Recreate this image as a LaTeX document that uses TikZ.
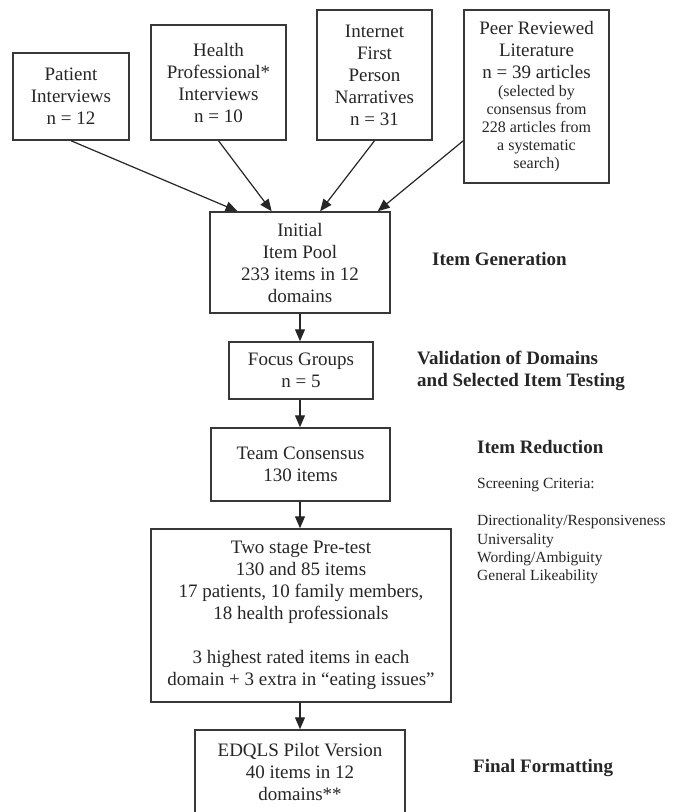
\documentclass[tikz,border=0pt]{standalone}
\usepackage{fontspec}
\setmainfont{Liberation Serif}
\usetikzlibrary{arrows.meta,calc}
\begin{document}
\begin{tikzpicture}[x=1pt,y=-1pt,
  box/.style={draw=black!78, line width=1.5pt, fill=white, align=center, inner sep=0pt,
    font=\fontsize{19}{22}\selectfont, text=black!85},
  lbl/.style={font=\bfseries\fontsize{19}{22}\selectfont, anchor=west, align=left, inner sep=0pt, text=black!85},
  crit/.style={font=\fontsize{15.5}{18.3}\selectfont, anchor=west, align=left, inner sep=0pt, text=black!85},
  arr/.style={-{Triangle[length=12pt,width=10pt]}, line width=1.2pt, black!85}]
\clip (0,0) rectangle (680,812);
\fill[white] (0,0) rectangle (680,812);

\node[box, minimum width=116, minimum height=87] (pat) at (71,96.5) {Patient\\Interviews\\n = 12};
\node[box, minimum width=135, minimum height=115] (hp) at (218.5,82.5) {Health\\Professional*\\Interviews\\n = 10};
\node[box, minimum width=115, minimum height=130] (inet) at (374.5,75) {Internet\\First\\Person\\Narratives\\n = 31};
\node[box, minimum width=145, minimum height=173] (peer) at (536.5,96.5) {\begin{minipage}{140pt}\centering Peer Reviewed\\Literature\\n = 39 articles\par\fontsize{16}{18}\selectfont (selected by\\consensus from\\228 articles from\\a systematic\\search)\par\end{minipage}};

\node[box, minimum width=180, minimum height=101] (init) at (300,262.5) {Initial\\Item Pool\\233 items in 12\\domains};
\node[box, minimum width=144, minimum height=57] (focus) at (301,370.5) {Focus Groups\\n = 5};
\node[box, minimum width=179, minimum height=73] (team) at (300.5,464.5) {Team Consensus\\130 items};
\node[box, minimum width=300, minimum height=173] (two) at (301,615.5) {Two stage Pre-test\\130 and 85 items\\17 patients, 10 family members,\\18 health professionals\\[22pt]3 highest rated items in each\\domain + 3 extra in “eating issues”};
\node[box, minimum width=210, minimum height=84] (edq) at (300,772) {EDQLS Pilot Version\\40 items in 12\\domains**};

\draw[arr] (pat.south) -- ($(init.north west)!0.156!(init.north east)$);
\draw[arr] (hp.south) -- ($(init.north west)!0.344!(init.north east)$);
\draw[arr] (inet.south) -- ($(init.north west)!0.611!(init.north east)$);
\draw[arr] ([yshift=43pt]peer.south west) -- ($(init.north west)!0.928!(init.north east)$);

\draw[arr] (init.south) -- (init.south |- focus.north);
\draw[arr] (init.south |- focus.south) -- (init.south |- team.north);
\draw[arr] (init.south |- team.south) -- (init.south |- two.north);
\draw[arr] (init.south |- two.south) -- (init.south |- edq.north);

\node[lbl] (gen) at (432,259) {Item Generation};
\node[lbl] (val) at (417,371) {Validation of Domains\\and Selected Item Testing};
\node[lbl] (red) at (477,447) {Item Reduction};
\node[crit] (scr) at (477,485) {Screening Criteria:};
\node[crit] (list) at (477,549.5) {Directionality/Responsiveness\\Universality\\Wording/Ambiguity\\General Likeability};
\node[lbl] (fin) at (473,768) {Final Formatting};
\end{tikzpicture}
\end{document}
